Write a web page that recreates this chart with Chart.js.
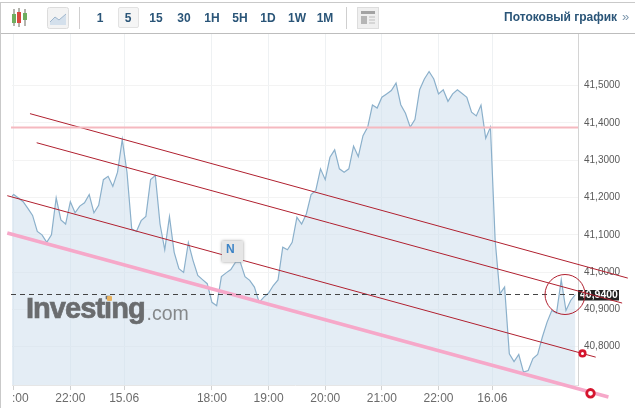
<!DOCTYPE html>
<html><head><meta charset="utf-8">
<script src="https://cdn.jsdelivr.net/npm/chart.js@4"></script>
<style>
html,body{margin:0;padding:0;background:#fff;overflow:hidden}
#wrap{position:relative;width:635px;height:408px;font-family:"Liberation Sans",Arial,sans-serif}
canvas{position:absolute;left:0;top:0}
.o{position:absolute;white-space:nowrap}
.b{color:#2a5578;font-weight:bold;font-size:12px;line-height:14px;transform:translateX(-50%);top:11px}
</style></head><body>
<div id="wrap">
<canvas id="c" width="635" height="408"></canvas>
<div class="o" style="left:0;top:2px;width:635px;height:1px;background:#c9c9c9"></div>
<div class="o" style="left:0;top:33px;width:635px;height:1px;background:#bdbdbd"></div>
<div class="o" style="left:0;top:3px;width:1px;height:405px;background:#c9c9c9"></div>
<svg class="o" style="left:10px;top:8px" width="20" height="20">
<path d="M4 1V18M9 0V19M15 1V18" stroke="#6b6b5e" stroke-width="1"/>
<rect x="2" y="6" width="4" height="9" fill="#6fae5f"/><rect x="7" y="4" width="4" height="11" fill="#d9483f"/><rect x="13" y="5" width="4" height="7" fill="#6fae5f"/></svg>
<svg class="o" style="left:47px;top:7px" width="22" height="22">
<rect x="0.5" y="0.5" width="21" height="21" rx="2" fill="#f3f3f3" stroke="#dcdcdc"/>
<path d="M3 15L8 10L12 13L19 7V18H3Z" fill="#d4e0ec"/><path d="M3 15L8 10L12 13L19 7" fill="none" stroke="#9fb6cc"/></svg>
<div class="o" style="left:79px;top:7px;width:1px;height:22px;background:#cfcfcf"></div>
<div class="o" style="left:118px;top:7px;width:21px;height:21px;background:#f5f5f5;border:1px solid #e2e2e2;border-radius:2px;box-sizing:border-box"></div>
<div class="o b" style="left:100px">1</div><div class="o b" style="left:128px">5</div>
<div class="o b" style="left:156px">15</div><div class="o b" style="left:184px">30</div>
<div class="o b" style="left:212px">1H</div><div class="o b" style="left:240px">5H</div>
<div class="o b" style="left:268px">1D</div><div class="o b" style="left:297px">1W</div>
<div class="o b" style="left:325px">1M</div>
<div class="o" style="left:346px;top:7px;width:1px;height:22px;background:#cfcfcf"></div>
<svg class="o" style="left:357px;top:7px" width="22" height="22">
<rect x="0.5" y="0.5" width="21" height="21" fill="#efefef" stroke="#dddddd"/>
<rect x="4" y="4" width="14" height="3" fill="#a3a3a3"/><rect x="4" y="9" width="6" height="8" fill="#b5b5b5"/>
<path d="M12 10H18M12 13H18M12 16H18" stroke="#bdbdbd"/></svg>
<div class="o" style="left:504px;top:10px;color:#2a5578;font-weight:bold;font-size:12px;line-height:14px">Потоковый график</div>
<div class="o" style="left:622px;top:10px;color:#7d97ad;font-size:13px;line-height:14px">»</div>
<div class="o" style="left:26px;top:292px;color:#6a6c6e;font-weight:bold;font-size:29px;line-height:33px;letter-spacing:-0.95px;-webkit-text-stroke:0.7px #6a6c6e">Investing</div>
<div class="o" style="left:146.5px;top:301px;color:#85888a;font-size:19.5px;line-height:24px">.com</div>
<div class="o" style="left:107px;top:296px;width:5px;height:5px;background:#e8b25f;border-radius:1px"></div>
<div class="o" style="left:222px;top:241px;width:21px;height:21px;background:#e6e6e6;box-shadow:0 0 3px #9a9a9a;color:#3d84c6;font-weight:bold;font-size:12px;line-height:16px;text-align:left;text-indent:4px">N</div>
</div>
<script>
const prices = [41.197,41.208,41.199,41.189,41.171,41.152,41.109,41.100,41.080,41.100,41.199,41.140,41.129,41.189,41.159,41.177,41.186,41.208,41.159,41.179,41.248,41.257,41.230,41.268,41.356,41.268,41.116,41.109,41.138,41.149,41.248,41.259,41.129,41.060,41.149,41.053,41.009,40.999,41.079,41.031,40.991,40.980,40.969,40.919,40.910,40.988,40.998,41.007,41.027,41.027,40.988,40.978,40.960,40.919,40.933,40.944,40.964,40.979,41.067,41.060,41.080,41.147,41.129,41.156,41.208,41.219,41.277,41.248,41.308,41.328,41.277,41.268,41.277,41.338,41.310,41.366,41.389,41.448,41.440,41.469,41.478,41.487,41.507,41.449,41.426,41.389,41.409,41.489,41.518,41.538,41.518,41.478,41.489,41.458,41.478,41.489,41.479,41.469,41.429,41.419,41.448,41.359,41.389,41.085,40.942,40.960,40.781,40.760,40.779,40.732,40.736,40.768,40.779,40.826,40.866,40.897,40.890,40.979,40.897,40.924,40.940];
const xTickValues = [0,12,23.4,42,54,66,78,90,101.4];
const xTickLabels = ["    :00","22:00","15.06","18:00","19:00","20:00","21:00","22:00","16.06"];
const yTickValues = [40.8,40.9,41.0,41.1,41.2,41.3,41.4,41.5];
const currentPrice = 40.94;
const lastLabel = "40,9400";
const resistance = [{x:-0.57,y:41.388},{x:119.55,y:41.388}];
const channelTop = [{x:3.45,y:41.425},{x:130.1,y:40.984}];
const channelMid = [{x:4.87,y:41.347},{x:128.9,y:40.917}];
const channelLow = [{x:-1.36,y:41.205},{x:123.3,y:40.772}];
const supportLine = [{x:-1.36,y:41.105},{x:126,y:40.665}];
const priceLine = [{x:-0.57,y:currentPrice},{x:119.55,y:currentPrice}];
const circleMark = {x:116.8,y:40.94};
const endMarks = [{x:120.5,y:40.782,r:2.8,w:2.6},{x:122.2,y:40.675,r:3.8,w:2.8}];
const RED = "#b0202f";

const overlay = {
  id:"overlay",
  beforeDatasetsDraw(ch){
    const c=ch.ctx,y=ch.scales.y.getPixelForValue(currentPrice);
    c.save();c.fillStyle="#222";c.fillRect(578,Math.round(y)-5,41,10.5);
    c.fillStyle="#fff";c.font='bold 10.5px "Liberation Sans"';c.textBaseline="middle";c.textAlign="left";
    c.fillText(lastLabel,580,y+0.5);c.restore();
  },
  afterDatasetsDraw(ch){
    const c=ch.ctx,sx=ch.scales.x,sy=ch.scales.y;
    c.save();c.strokeStyle=RED;c.lineWidth=1;c.beginPath();
    c.arc(sx.getPixelForValue(circleMark.x),sy.getPixelForValue(circleMark.y),20,0,Math.PI*2);c.stroke();
    endMarks.forEach(m=>{
      c.beginPath();c.arc(sx.getPixelForValue(m.x),sy.getPixelForValue(m.y),m.r,0,Math.PI*2);
      c.fillStyle="#fff";c.fill();c.strokeStyle="#d5152e";c.lineWidth=m.w;c.stroke();
    });
    c.restore();
  }
};
const seg=(data,color,w,dash)=>({type:"line",data,borderColor:color,borderWidth:w,borderDash:dash||[],pointRadius:0,fill:false,clip:false,tension:0});

new Chart(document.getElementById("c"),{
  type:"line",
  data:{datasets:[
    seg(priceLine,"#444",1,[5,4]),
    seg(resistance,"#f5b9c0",2),
    seg(supportLine,"#f6a8c9",3.5),
    seg(channelTop,RED,1),
    seg(channelMid,RED,1),
    seg(channelLow,RED,1),
    {data:prices.map((p,i)=>({x:i-1,y:p})),borderColor:"#8bb0cb",borderWidth:1.2,backgroundColor:"rgba(205,222,236,.55)",fill:"start",pointRadius:0,tension:0,order:10}
  ]},
  options:{
    responsive:false,animation:false,
    layout:{padding:{left:12,top:33,right:0,bottom:0}},
    plugins:{legend:{display:false},tooltip:{enabled:false}},
    scales:{
      x:{type:"linear",min:-0.36,max:119.55,
        afterBuildTicks:s=>{s.ticks=xTickValues.map(v=>({value:v}));},
        afterFit:s=>{s.height=23;s.paddingLeft=0;s.paddingRight=0;},
        grid:{color:"#eef1f3",tickColor:"#d0d0d0",tickLength:5,drawOnChartArea:true},
        border:{color:"#e6e6e6"},
        ticks:{autoSkip:false,maxRotation:0,padding:1,color:"#6b6b6b",font:{family:"Liberation Sans",size:12},
          callback:v=>xTickLabels[xTickValues.indexOf(v)]}},
      y:{type:"linear",position:"right",min:40.6973,max:41.6413,
        afterBuildTicks:s=>{s.ticks=yTickValues.map(v=>({value:v}));},
        afterFit:s=>{s.width=57;s.paddingTop=0;s.paddingBottom=0;},
        grid:{color:"#f3f3f3",tickLength:0},
        border:{color:"#d4d4d4"},
        ticks:{padding:6,color:"#5a5a5a",font:{family:"Liberation Sans",size:10},
          callback:v=>v.toFixed(4).replace(".",",")}}
    }
  },
  plugins:[overlay]
});
</script>
</body></html>
